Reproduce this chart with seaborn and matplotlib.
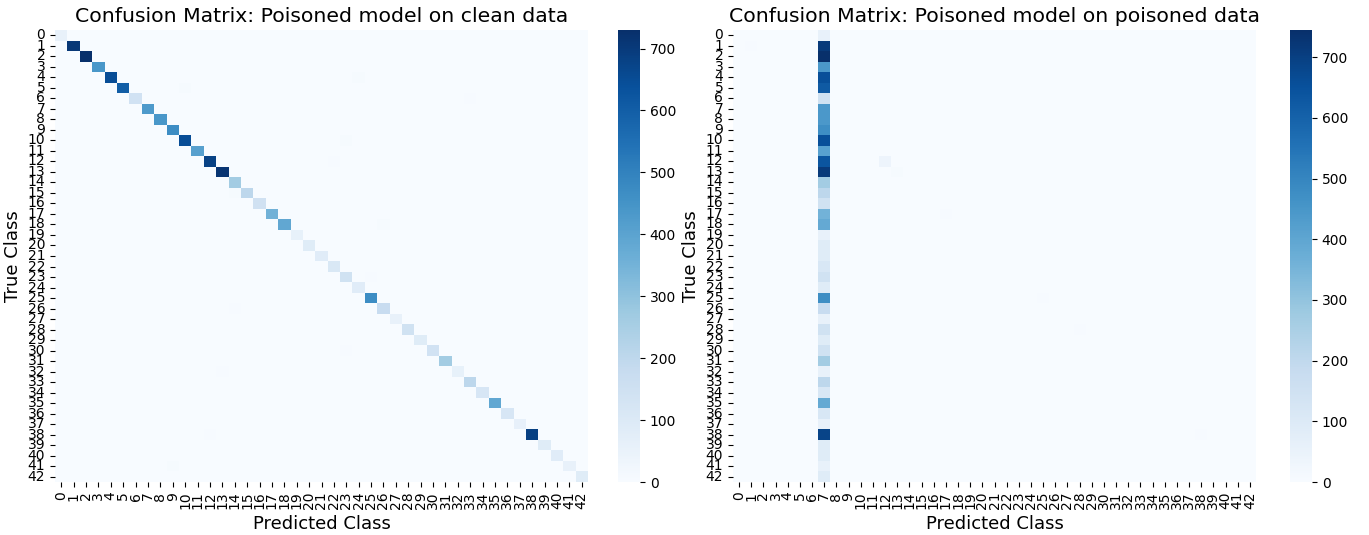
import numpy as np
import pandas as pd
import matplotlib
matplotlib.use("Agg")
import matplotlib.pyplot as plt
import seaborn as sns

classes = list(range(43))

# Left: poisoned model on clean data (diagonal counts)
clean_diag = [55, 705, 730, 440, 650, 600, 140, 430, 440, 470, 650, 410, 680, 715,
              265, 205, 148, 355, 385, 58, 88, 85, 110, 145, 85, 470, 175, 55, 145,
              88, 140, 265, 58, 205, 118, 385, 118, 60, 685, 88, 85, 55, 88]
# a few small off-diagonal confusions (row, col, count)
clean_off_rows = [4, 5, 10, 12, 15, 18, 23, 26, 30, 41, 32, 38, 6]
clean_off_cols = [24, 10, 23, 22, 14, 26, 25, 14, 23, 9, 13, 12, 33]
clean_off_vals = [6, 8, 7, 5, 6, 7, 5, 4, 5, 6, 4, 4, 3]

# Right: poisoned model on poisoned data (column 7 = target class)
poison_col7 = [58, 715, 745, 445, 655, 625, 148, 445, 445, 475, 655, 415, 640, 715,
               268, 208, 148, 358, 388, 58, 88, 88, 118, 148, 88, 475, 178, 58, 148,
               88, 148, 268, 58, 208, 118, 388, 118, 58, 688, 88, 88, 58, 88]
poison_off_rows = [12, 13, 1, 25, 28, 17, 38]
poison_off_cols = [12, 13, 1, 25, 28, 17, 38]
poison_off_vals = [40, 6, 5, 3, 3, 3, 3]

n = len(classes)
cm_clean = np.zeros((n, n))
for i, v in enumerate(clean_diag):
    cm_clean[i, i] = v
for r, c, v in zip(clean_off_rows, clean_off_cols, clean_off_vals):
    cm_clean[r, c] = v

cm_poison = np.zeros((n, n))
for i, v in enumerate(poison_col7):
    cm_poison[i, 7] = v
for r, c, v in zip(poison_off_rows, poison_off_cols, poison_off_vals):
    cm_poison[r, c] = v

df_clean = pd.DataFrame(cm_clean, index=classes, columns=classes)
df_poison = pd.DataFrame(cm_poison, index=classes, columns=classes)

W, H = 1369, 535
fig = plt.figure(figsize=(W / 100, H / 100), dpi=100)

def rect(x0, y0, x1, y1):
    return [x0 / W, 1 - y1 / H, (x1 - x0) / W, (y1 - y0) / H]

ax1 = fig.add_axes(rect(55, 30, 588, 482))
cax1 = fig.add_axes(rect(618, 30, 640, 482))
ax2 = fig.add_axes(rect(733, 30, 1256, 482))
cax2 = fig.add_axes(rect(1290, 30, 1312, 482))

for ax, cax, df, title in [
    (ax1, cax1, df_clean, "Confusion Matrix: Poisoned model on clean data"),
    (ax2, cax2, df_poison, "Confusion Matrix: Poisoned model on poisoned data"),
]:
    sns.heatmap(df, ax=ax, cbar_ax=cax, cmap="Blues", xticklabels=classes,
                yticklabels=classes)
    ax.set_title(title, fontsize=14.7)
    ax.set_xlabel("Predicted Class", fontsize=13)
    ax.set_ylabel("True Class", fontsize=13)
    ax.tick_params(axis="both", labelsize=10)
    ax.set_xticklabels(classes, rotation=90, fontsize=10)
    ax.set_yticklabels(classes, rotation=0, fontsize=10)
    cax.tick_params(labelsize=10)
    cax.yaxis.set_ticks([0, 100, 200, 300, 400, 500, 600, 700])

fig.savefig("out.png", dpi=100)
